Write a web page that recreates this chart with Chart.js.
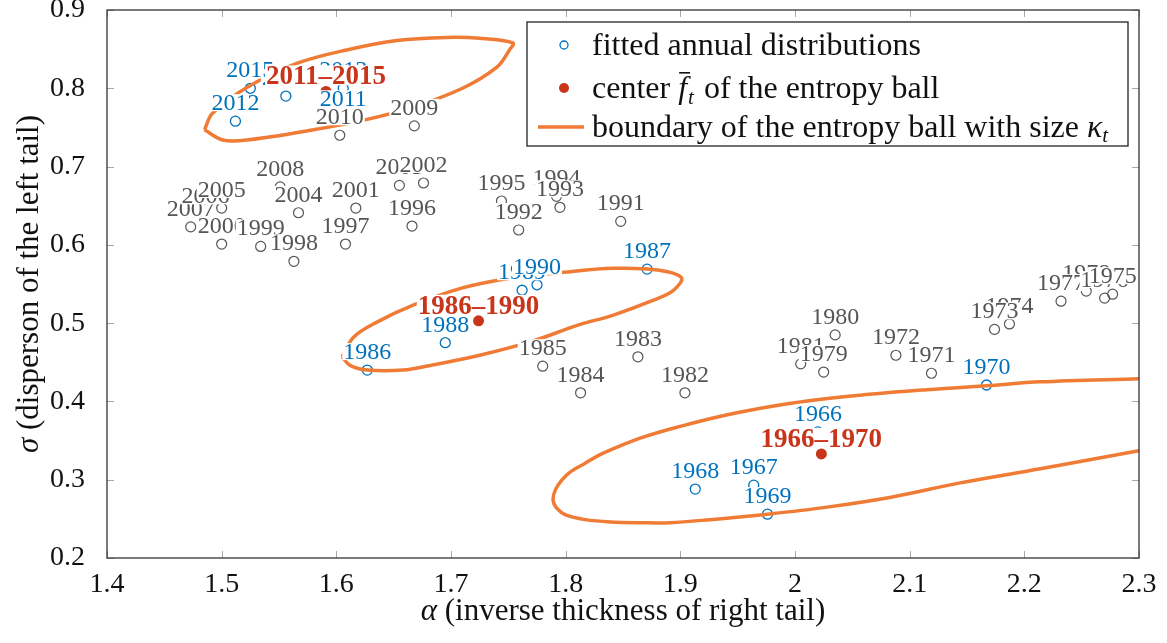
<!DOCTYPE html>
<html>
<head>
<meta charset="utf-8">
<script src="https://cdn.jsdelivr.net/npm/chart.js"></script>
<style>
  html, body { margin: 0; padding: 0; background: #fff; }
  #wrap { width: 1167px; height: 643px; }
</style>
</head>
<body>
<div id="wrap"><canvas id="chart" width="1167" height="643"></canvas></div>
<script>
// --- data ---
const xTicks = [1.4, 1.5, 1.6, 1.7, 1.8, 1.9, 2.0, 2.1, 2.2, 2.3];
const yTicks = [0.2, 0.3, 0.4, 0.5, 0.6, 0.7, 0.8, 0.9];

// years outside the three windows (grey)
const grayYears = [1971, 1972, 1973, 1974, 1975, 1976, 1977, 1978, 1979, 1980, 1981, 1982, 1983, 1984, 1985,
  1991, 1992, 1993, 1994, 1995, 1996, 1997, 1998, 1999, 2000, 2001, 2002, 2003, 2004, 2005, 2006, 2007, 2008, 2009, 2010];
const grayAlpha = [2.119, 2.088, 2.174, 2.187, 2.277, 2.270, 2.232, 2.254, 2.025, 2.035, 2.005, 1.904, 1.863, 1.813, 1.780,
  1.848, 1.759, 1.795, 1.792, 1.744, 1.666, 1.608, 1.563, 1.534, 1.500, 1.617, 1.676, 1.655, 1.567, 1.500, 1.486, 1.473, 1.551, 1.668, 1.603];
const graySigma = [0.436, 0.459, 0.492, 0.499, 0.537, 0.532, 0.528, 0.541, 0.4375, 0.485, 0.448, 0.411, 0.457, 0.411, 0.445,
  0.630, 0.619, 0.648, 0.662, 0.656, 0.624, 0.601, 0.579, 0.598, 0.601, 0.647, 0.679, 0.676, 0.641, 0.647, 0.639, 0.623, 0.674, 0.752, 0.740];

// years inside the windows (blue)
const blueYears = [1966, 1967, 1968, 1969, 1970, 1986, 1987, 1988, 1989, 1990, 2011, 2012, 2013, 2014, 2015];
const blueAlpha = [2.020, 1.964, 1.913, 1.976, 2.167, 1.627, 1.871, 1.695, 1.762, 1.775, 1.606, 1.512, 1.606, 1.556, 1.525];
const blueSigma = [0.361, 0.293, 0.288, 0.256, 0.421, 0.440, 0.569, 0.475, 0.542, 0.549, 0.763, 0.758, 0.800, 0.790, 0.800];

// centres of the entropy balls
const centerNames = ['1966–1970', '1986–1990', '2011–2015'];
const centerAlpha = [2.023, 1.724, 1.591];
const centerSigma = [0.333, 0.503, 0.796];

// ball boundaries
const ball1966Alpha = [2.300, 2.214, 2.167, 2.115, 2.057, 1.998, 1.941, 1.897, 1.869, 1.847, 1.830, 1.817, 1.805,
  1.797, 1.791, 1.789, 1.792, 1.800, 1.817, 1.839, 1.865, 1.891, 1.926, 1.976, 2.028, 2.085, 2.144, 2.214, 2.300];
const ball1966Sigma = [0.429, 0.425, 0.420, 0.415, 0.408, 0.398, 0.383, 0.367, 0.355, 0.343, 0.332, 0.321, 0.311,
  0.300, 0.287, 0.274, 0.264, 0.255, 0.249, 0.246, 0.245, 0.245, 0.249, 0.256, 0.265, 0.278, 0.296, 0.314, 0.337];
const ball1986Alpha = [1.605, 1.615, 1.635, 1.667, 1.710, 1.754, 1.798, 1.841, 1.880, 1.901, 1.894, 1.876, 1.841,
  1.812, 1.769, 1.725, 1.682, 1.658, 1.627, 1.612, 1.605];
const ball1986Sigma = [0.457, 0.482, 0.501, 0.523, 0.545, 0.558, 0.565, 0.570, 0.568, 0.558, 0.542, 0.529, 0.510,
  0.498, 0.476, 0.459, 0.446, 0.440, 0.440, 0.446, 0.457];
const ball2011Alpha = [1.485, 1.492, 1.522, 1.566, 1.609, 1.653, 1.696, 1.725, 1.754, 1.751, 1.740, 1.710, 1.667,
  1.623, 1.580, 1.522, 1.501, 1.485];
const ball2011Sigma = [0.747, 0.768, 0.801, 0.832, 0.849, 0.861, 0.865, 0.864, 0.858, 0.849, 0.827, 0.800, 0.776,
  0.759, 0.747, 0.734, 0.734, 0.747];

// --- styling ---
const BLUE = '#0072BD';
const RED = '#C8351A';
const ORANGE = '#EF7B35';
const GREY = '#555555';
const SERIF = '"Liberation Serif", "DejaVu Serif", serif';

const pts = (xs, ys) => xs.map((x, i) => ({ x: x, y: ys[i] }));

function ballDataset(xs, ys) {
  return {
    data: pts(xs, ys),
    showLine: true,
    borderColor: ORANGE,
    borderWidth: 3.5,
    pointRadius: 0,
    tension: 0.35,
    fill: false
  };
}

// draws a label with a white box behind it (like the pgf nodes)
function tag(ctx, text, x, y, color, font) {
  ctx.font = font;
  const m = ctx.measureText(text);
  const asc = m.actualBoundingBoxAscent, desc = m.actualBoundingBoxDescent;
  ctx.fillStyle = '#fff';
  ctx.fillRect(x - m.width / 2 - 1, y - asc - 1, m.width + 2, asc + desc + 2);
  ctx.fillStyle = color;
  ctx.textAlign = 'center';
  ctx.textBaseline = 'alphabetic';
  ctx.fillText(text, x, y);
}

const labelPlugin = {
  id: 'yearLabels',
  afterDatasetsDraw(chart) {
    const ctx = chart.ctx;
    ctx.save();
    const grey = chart.getDatasetMeta(3).data;
    for (let i = grey.length - 1; i >= 0; i--) {
      tag(ctx, String(grayYears[i]), grey[i].x, grey[i].y - 11, GREY, '24px ' + SERIF);
    }
    const blue = chart.getDatasetMeta(4).data;
    blue.forEach((p, i) => tag(ctx, String(blueYears[i]), p.x, p.y - 11, BLUE, '24px ' + SERIF));
    const ctr = chart.getDatasetMeta(5).data;
    ctr.forEach((p, i) => tag(ctx, centerNames[i], p.x, p.y - 7, RED, 'bold 27px ' + SERIF));
    ctx.restore();
  }
};

const framePlugin = {
  id: 'frame',
  afterDraw(chart) {
    const ctx = chart.ctx;
    const a = chart.chartArea;
    const xs = chart.scales.x, ys = chart.scales.y;
    ctx.save();
    // inward tick marks on all four sides
    ctx.strokeStyle = '#a8a8a8';
    ctx.lineWidth = 1;
    ctx.beginPath();
    xTicks.forEach(v => {
      const px = Math.round(xs.getPixelForValue(v)) + 0.5;
      ctx.moveTo(px, a.bottom); ctx.lineTo(px, a.bottom - 7);
      ctx.moveTo(px, a.top); ctx.lineTo(px, a.top + 7);
    });
    yTicks.forEach(v => {
      const py = Math.round(ys.getPixelForValue(v)) + 0.5;
      ctx.moveTo(a.left, py); ctx.lineTo(a.left + 7, py);
      ctx.moveTo(a.right, py); ctx.lineTo(a.right - 7, py);
    });
    ctx.stroke();
    ctx.strokeStyle = '#333';
    ctx.lineWidth = 1.3;
    ctx.strokeRect(a.left, a.top, a.right - a.left, a.bottom - a.top);

    // axis titles
    ctx.fillStyle = '#111';
    ctx.textBaseline = 'middle';
    const ttl = '31px ' + SERIF, ttlIt = 'italic 31px ' + SERIF;
    ctx.font = ttlIt; const wa = ctx.measureText('α').width;
    ctx.font = ttl; const wr = ctx.measureText(' (inverse thickness of right tail)').width;
    let x0 = (a.left + a.right) / 2 - (wa + wr) / 2;
    ctx.textAlign = 'left';
    ctx.font = ttlIt; ctx.fillText('α', x0, 612);
    ctx.font = ttl; ctx.fillText(' (inverse thickness of right tail)', x0 + wa, 612);

    ctx.save();
    ctx.translate(30, (a.top + a.bottom) / 2);
    ctx.rotate(-Math.PI / 2);
    ctx.font = ttlIt; const ws = ctx.measureText('σ').width;
    ctx.font = ttl; const wt = ctx.measureText(' (disperson of the left tail)').width;
    x0 = -(ws + wt) / 2;
    ctx.font = ttlIt; ctx.fillText('σ', x0, 0);
    ctx.font = ttl; ctx.fillText(' (disperson of the left tail)', x0 + ws, 0);
    ctx.restore();

    // legend
    const L = 527, T = 22, R = a.right - 11, B = 146;
    ctx.fillStyle = '#fff';
    ctx.fillRect(L, T, R - L, B - T);
    ctx.strokeStyle = '#222';
    ctx.lineWidth = 1.3;
    ctx.strokeRect(L, T, R - L, B - T);
    const rows = [T + 23, T + 66, T + 105];
    const tx = 592, mx = 564;
    ctx.lineWidth = 1.3;
    ctx.strokeStyle = BLUE;
    ctx.beginPath(); ctx.arc(mx, rows[0], 4, 0, 2 * Math.PI); ctx.stroke();
    ctx.fillStyle = RED;
    ctx.beginPath(); ctx.arc(mx, rows[1], 5, 0, 2 * Math.PI); ctx.fill();
    ctx.strokeStyle = ORANGE; ctx.lineWidth = 3.5;
    ctx.beginPath(); ctx.moveTo(538, rows[2]); ctx.lineTo(584, rows[2]); ctx.stroke();

    const lf = '32px ' + SERIF, lfi = 'italic 32px ' + SERIF, sub = 'italic 21px ' + SERIF;
    ctx.fillStyle = '#111';
    ctx.textAlign = 'left';
    ctx.textBaseline = 'alphabetic';
    ctx.font = lf;
    ctx.fillText('fitted annual distributions', tx, rows[0] + 10);
    let cx = tx;
    ctx.fillText('center ', cx, rows[1] + 10); cx += ctx.measureText('center ').width;
    ctx.font = lfi; ctx.fillText('f', cx, rows[1] + 10);
    const wf = ctx.measureText('f').width;
    ctx.fillRect(cx + 1, rows[1] - 16, wf + 2, 1.6);
    cx += wf + 1;
    ctx.font = sub; ctx.fillText('t', cx, rows[1] + 16); cx += ctx.measureText('t').width + 2;
    ctx.font = lf; ctx.fillText(' of the entropy ball', cx, rows[1] + 10);
    cx = tx;
    ctx.fillText('boundary of the entropy ball with size ', cx, rows[2] + 10);
    cx += ctx.measureText('boundary of the entropy ball with size ').width;
    ctx.font = lfi; ctx.fillText('κ', cx, rows[2] + 10); cx += ctx.measureText('κ').width;
    ctx.font = sub; ctx.fillText('t', cx, rows[2] + 15);
    ctx.restore();
  }
};

const tickFont = { family: SERIF, size: 28 };
const fmt = v => String(+Number(v).toFixed(1));

new Chart(document.getElementById('chart').getContext('2d'), {
  type: 'scatter',
  data: {
    datasets: [
      ballDataset(ball1966Alpha, ball1966Sigma),
      ballDataset(ball1986Alpha, ball1986Sigma),
      ballDataset(ball2011Alpha, ball2011Sigma),
      {
        data: pts(grayAlpha, graySigma),
        pointRadius: 5, borderWidth: 1.2,
        borderColor: GREY, backgroundColor: 'rgba(0,0,0,0)'
      },
      {
        data: pts(blueAlpha, blueSigma),
        pointRadius: 5, borderWidth: 1.3,
        borderColor: BLUE, backgroundColor: 'rgba(0,0,0,0)'
      },
      {
        data: pts(centerAlpha, centerSigma),
        pointRadius: 5.5, borderWidth: 0,
        backgroundColor: RED, borderColor: RED
      }
    ]
  },
  options: {
    responsive: false,
    animation: false,
    devicePixelRatio: 1,
    layout: { padding: { top: 10, right: 28, left: 0, bottom: 0 } },
    plugins: { legend: { display: false }, tooltip: { enabled: false } },
    scales: {
      x: {
        type: 'linear', min: 1.4, max: 2.3,
        afterBuildTicks: s => { s.ticks = xTicks.map(v => ({ value: v })); },
        afterFit: s => { s.height = 85; s.paddingLeft = 0; s.paddingRight = 0; },
        grid: { display: false }, border: { display: false },
        ticks: { font: tickFont, color: '#111', padding: 2, callback: fmt, maxRotation: 0 }
      },
      y: {
        type: 'linear', min: 0.2, max: 0.9,
        afterBuildTicks: s => { s.ticks = yTicks.map(v => ({ value: v })); },
        afterFit: s => { s.width = 107; s.paddingTop = 0; s.paddingBottom = 0; },
        grid: { display: false }, border: { display: false },
        ticks: { font: tickFont, color: '#111', padding: 14, callback: fmt }
      }
    }
  },
  plugins: [labelPlugin, framePlugin]
});
</script>
</body>
</html>
